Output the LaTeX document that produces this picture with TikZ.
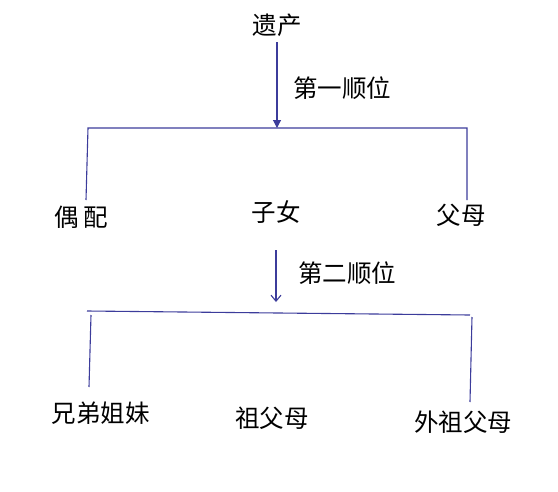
\documentclass[tikz,border=0pt]{standalone}
\usepackage{fontspec}
\newfontfamily\cjk{Noto Sans CJK SC}
\usetikzlibrary{arrows.meta}
\definecolor{ln}{RGB}{60,60,155}
\begin{document}
\begin{tikzpicture}[x=1pt,y=-1pt,
  lbl/.style={font=\cjk\fontsize{24.5}{28}\selectfont, inner sep=0pt, text=black},
  conn/.style={draw=ln, line width=1.1pt}]
\useasboundingbox (0,0) rectangle (558,491);
\node[lbl] (yc) at (277,25) {遗产};
\node[lbl] (l1) at (342,88) {第一顺位};
\node[lbl] (po) at (81,217) {偶\,配};
\node[lbl] (zn) at (276,212) {子女};
\node[lbl] (fm) at (461,215) {父母};
\node[lbl] (l2) at (347,273) {第二顺位};
\node[lbl] (xd) at (101,413) {兄弟姐妹};
\node[lbl] (zf) at (272,418) {祖父母};
\node[lbl] (wz) at (463,422) {外祖父母};
% first level
\coordinate (a1) at (277,42);
\coordinate (b1) at (277,128);
\coordinate (h1l) at (88,128);
\coordinate (h1r) at (467,128);
\coordinate (v1l) at (86,200);
\coordinate (v1r) at (467,200);
\draw[conn, -{Triangle[length=8pt,width=8pt]}] (a1) -- (b1);
\draw[conn] (v1l) -- (h1l) -- (h1r) -- (v1r);
% second level
\coordinate (a2) at (276,250);
\coordinate (b2) at (276,302);
\draw[conn, -{Straight Barb[length=6pt,width=10pt]}] (a2) -- (b2);
\coordinate (h2l) at (87,311);
\coordinate (h2r) at (470,315);
\draw[conn] (h2l) -- (h2r);
\draw[conn] (91,315) coordinate (v2la) -- (89,387) coordinate (v2lb);
\draw[conn] (472,317) coordinate (v2ra) -- (470,402) coordinate (v2rb);
\end{tikzpicture}
\end{document}
